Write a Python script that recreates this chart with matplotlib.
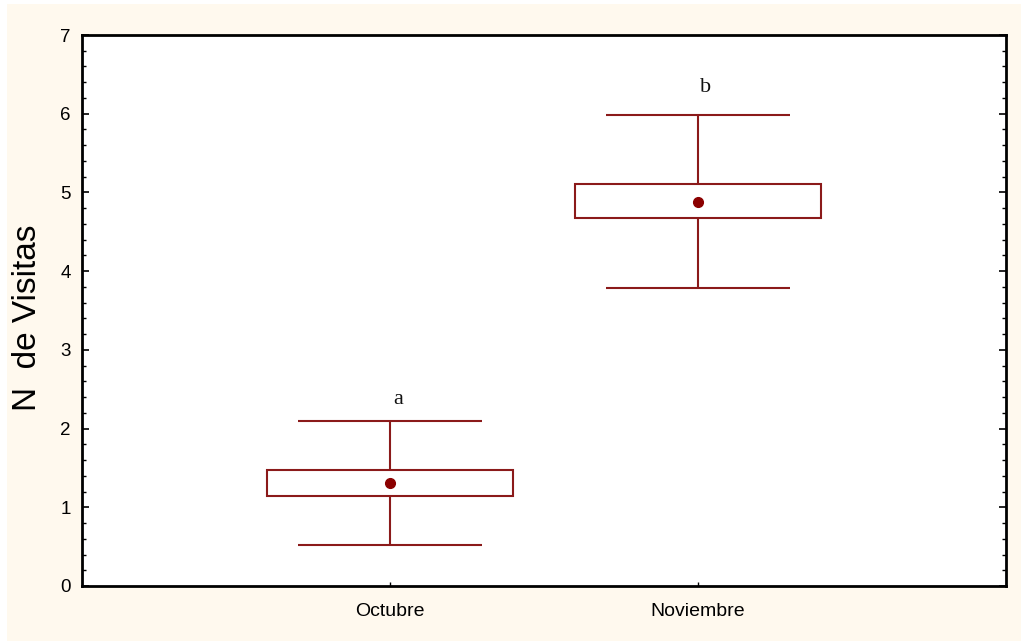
import matplotlib.pyplot as plt
from matplotlib.patches import Rectangle
from matplotlib.ticker import MultipleLocator

meses = ['Octubre', 'Noviembre']
posiciones = [1, 2]
caja_baja = [1.14, 4.68]
caja_alta = [1.47, 5.11]
medias = [1.31, 4.88]
bigote_bajo = [0.52, 3.78]
bigote_alto = [2.10, 5.98]
letras = ['a', 'b']
letras_y = [2.37, 6.33]

rojo = '#8B1A1A'

fig = plt.figure(figsize=(10.21, 6.41), dpi=100)
fig.patch.set_facecolor('white')
# fondo crema
fig.patches.append(Rectangle((7 / 1021, -0.1), 2, 1.1 - 4 / 641, transform=fig.transFigure,
                             facecolor='#FFF9EE', edgecolor='none', zorder=-10))

ax = fig.add_axes([82 / 1021, 55 / 641, 924 / 1021, 551 / 641])
ax.set_facecolor('white')

# cajas
alturas = [h - l for h, l in zip(caja_alta, caja_baja)]
ax.bar(posiciones, alturas, width=0.8, bottom=caja_baja, facecolor='white',
       edgecolor=rojo, linewidth=1.5, zorder=2)
# bigotes
ax.vlines(posiciones, bigote_bajo, caja_baja, color=rojo, linewidth=1.5, zorder=2)
ax.vlines(posiciones, caja_alta, bigote_alto, color=rojo, linewidth=1.5, zorder=2)
ax.hlines(bigote_bajo, [p - 0.3 for p in posiciones], [p + 0.3 for p in posiciones],
          color=rojo, linewidth=1.5, zorder=2)
ax.hlines(bigote_alto, [p - 0.3 for p in posiciones], [p + 0.3 for p in posiciones],
          color=rojo, linewidth=1.5, zorder=2)
# medias
ax.plot(posiciones, medias, 'o', color='#8B0000', markersize=7, zorder=3)

for p, l, y in zip(posiciones, letras, letras_y):
    ax.text(p + 0.025, y, l, ha='center', va='center', fontsize=16,
            family='Liberation Serif', color='#111111')

ax.set_xlim(0, 3)
ax.set_ylim(0, 7)
ax.set_xticks(posiciones)
ax.set_xticklabels(meses, family='Liberation Sans', fontsize=14)
ax.yaxis.set_major_locator(MultipleLocator(1))
ax.yaxis.set_minor_locator(MultipleLocator(0.2))
ax.tick_params(axis='y', which='major', direction='in', length=5, width=1.2,
               left=True, right=True, labelsize=13.5, pad=8)
ax.tick_params(axis='y', which='minor', direction='in', length=3, width=1,
               left=True, right=True)
ax.tick_params(axis='x', direction='in', length=3, width=1, pad=12)
for lab in ax.get_yticklabels():
    lab.set_family('Liberation Sans')
for s in ax.spines.values():
    s.set_linewidth(2)
    s.set_color('black')

fig.text(28 / 1021, 1 - 318 / 641, 'N  de Visitas', rotation=90, ha='center',
         va='center', fontsize=24, family='Liberation Sans')

fig.savefig('out.png', dpi=100, facecolor=fig.get_facecolor())
